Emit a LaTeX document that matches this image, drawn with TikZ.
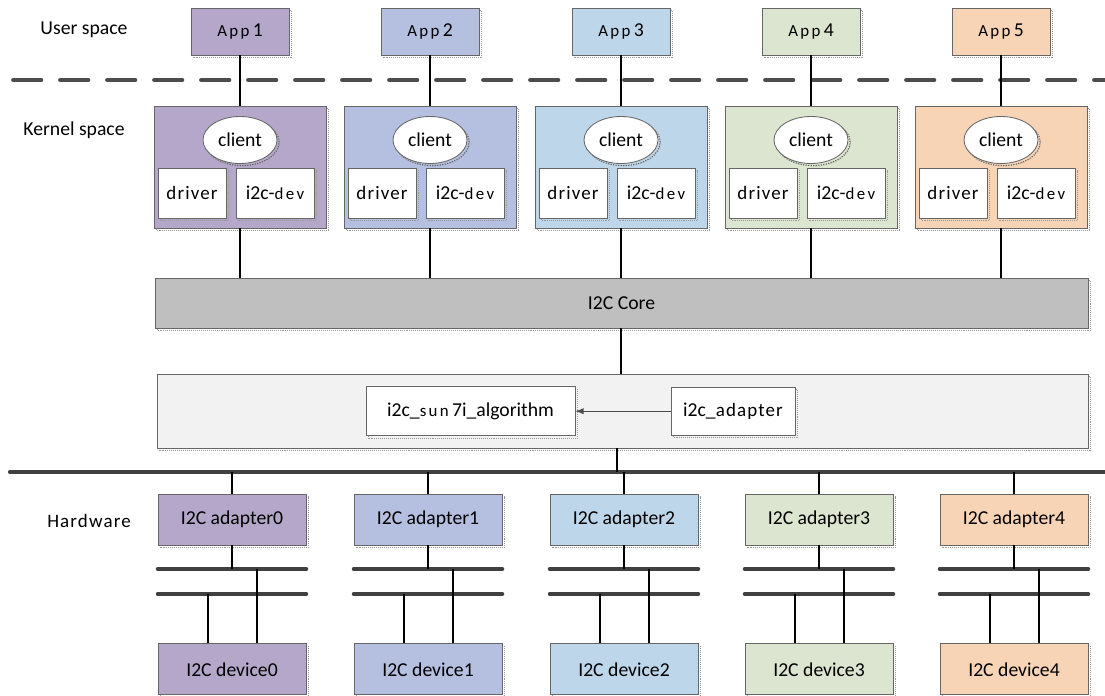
\documentclass[tikz,border=0pt]{standalone}
\usepackage{fontspec}
\setmainfont{Carlito}
\usepackage{xcolor}
\usepackage{tikz}
\usetikzlibrary{arrows,shapes.geometric,shadows}
\usetikzlibrary{positioning}

\definecolor{colA}{HTML}{B4A7CA}
\definecolor{colB}{HTML}{B5BFE0}
\definecolor{colC}{HTML}{BED6EA}
\definecolor{colD}{HTML}{DCE5CF}
\definecolor{colE}{HTML}{F8D4B6}
\definecolor{coregray}{HTML}{BFBFBF}
\definecolor{algogray}{HTML}{F2F2F2}
\newcommand{\spc}[1]{{\addfontfeatures{LetterSpace=14}\fontsize{12}{14}\selectfont #1}}
\newcommand{\spcl}[1]{{\addfontfeatures{LetterSpace=6}\fontsize{13.5}{16}\selectfont #1}}

\begin{document}
\begin{tikzpicture}[-,semithick,font=\fontsize{14}{17}\selectfont]
  \tikzstyle{box}=[draw=black!60,line width=0.6pt,rectangle,inner sep=0pt,copy shadow={shadow xshift=1.8pt,shadow yshift=-1.8pt,fill=none,draw=black!40,densely dotted,line width=0.4pt}]
  \tikzstyle{appbox}=[box,minimum width=2.45cm,minimum height=1.175cm]
  \tikzstyle{kbox}=[box,minimum width=4.3cm,minimum height=3.05cm]
  \tikzstyle{cli}=[box,ellipse,fill=white,minimum width=1.85cm,minimum height=1.175cm,copy shadow={shadow xshift=1.5pt,shadow yshift=-1.5pt,fill=none,draw=black!60,densely dotted,line width=0.8pt}]
  \tikzstyle{drv}=[box,fill=white,minimum width=1.7cm,minimum height=1.25cm]
  \tikzstyle{dev}=[box,fill=white,minimum width=1.95cm,minimum height=1.25cm]
  \tikzstyle{hw}=[box,minimum width=3.7cm,minimum height=1.275cm]
  \tikzstyle{wire}=[black,line width=1.4pt]
  \tikzstyle{bus}=[black!75,line width=2.6pt,line cap=round]
  \tikzstyle{lbl}=[inner sep=0pt]
  \useasboundingbox (0,0) rectangle (27.625,-17.375);

  % layer labels and separators
  \node[lbl] (us) at (2.1,-0.75) {User space};
  \node[lbl] (ks) at (1.85,-3.25) {Kernel space};
  \node[lbl] (hs) at (2.225,-13.025) {\spcl{Hardware}};
  \coordinate (usL) at (0.33,-2);
  \coordinate (usR) at (27.625,-2);
  \coordinate (hwL) at (0.25,-11.8);
  \coordinate (hwR) at (27.625,-11.8);
  \coordinate (bu) at (0,-14.225);
  \coordinate (bl) at (0,-14.85);
  \draw[black!70,line width=3pt,line cap=round,dash pattern=on 0.7cm off 0.475cm] (usL) -- (usR);
  \draw[black!75,line width=3pt,line cap=round] (hwL) -- (hwR);

  % user space
  \node[appbox,fill=colA] (P1) at (6.0,-0.7875)    {\spc{App}\,1};
  \node[appbox,fill=colB] (P2) at (10.75,-0.7875)  {\spc{App}\,2};
  \node[appbox,fill=colC] (P3) at (15.525,-0.7875) {\spc{App}\,3};
  \node[appbox,fill=colD] (P4) at (20.275,-0.7875) {\spc{App}\,4};
  \node[appbox,fill=colE] (P5) at (25.025,-0.7875) {\spc{App}\,5};

  % kernel space
  \node[kbox,fill=colA] (K1) at (6.0,-4.175)    {};
  \node[kbox,fill=colB] (K2) at (10.75,-4.175)  {};
  \node[kbox,fill=colC] (K3) at (15.525,-4.175) {};
  \node[kbox,fill=colD] (K4) at (20.275,-4.175) {};
  \node[kbox,fill=colE] (K5) at (25.025,-4.175) {};
  \node[cli] (C1) at (6.0,-3.5)    {client};
  \node[cli] (C2) at (10.75,-3.5)  {client};
  \node[cli] (C3) at (15.525,-3.5) {client};
  \node[cli] (C4) at (20.275,-3.5) {client};
  \node[cli] (C5) at (25.025,-3.5) {client};
  \node[drv] (R1) at (4.8,-4.825)    {\spcl{driver}};
  \node[drv] (R2) at (9.55,-4.825)   {\spcl{driver}};
  \node[drv] (R3) at (14.325,-4.825) {\spcl{driver}};
  \node[drv] (R4) at (19.075,-4.825) {\spcl{driver}};
  \node[drv] (R5) at (23.825,-4.825) {\spcl{driver}};
  \node[dev] (V1) at (6.875,-4.825)  {i2c-\spc{dev}};
  \node[dev] (V2) at (11.625,-4.825) {i2c-\spc{dev}};
  \node[dev] (V3) at (16.4,-4.825)   {i2c-\spc{dev}};
  \node[dev] (V4) at (21.15,-4.825)  {i2c-\spc{dev}};
  \node[dev] (V5) at (25.9,-4.825)   {i2c-\spc{dev}};

  \node[box,fill=coregray,minimum width=23.325cm,minimum height=1.25cm] (Core) at (15.5375,-7.575) {I2C Core};
  \node[box,fill=algogray,minimum width=23.275cm,minimum height=1.85cm] (Cont) at (15.5625,-10.275) {};
  \node[box,fill=white,minimum width=5.225cm,minimum height=1.225cm] (Alg) at (11.7625,-10.28) {i2c\_\spc{sun}\,7i\_algorithm};
  \node[box,fill=white,minimum width=3.1cm,minimum height=1.2cm] (Ad) at (18.325,-10.28) {i2c\_\spcl{adapter}};

  % hardware
  \node[hw,fill=colA] (A0) at (5.8,-12.9875)    {I2C adapter0};
  \node[hw,fill=colB] (A1) at (10.7,-12.9875)   {I2C adapter1};
  \node[hw,fill=colC] (A2) at (15.6,-12.9875)   {I2C adapter2};
  \node[hw,fill=colD] (A3) at (20.475,-12.9875) {I2C adapter3};
  \node[hw,fill=colE] (A4) at (25.35,-12.9875)  {I2C adapter4};
  \node[hw,fill=colA] (D0) [below=2.45cm of A0] {I2C device0};
  \node[hw,fill=colB] (D1) [below=2.45cm of A1] {I2C device1};
  \node[hw,fill=colC] (D2) [below=2.45cm of A2] {I2C device2};
  \node[hw,fill=colD] (D3) [below=2.45cm of A3] {I2C device3};
  \node[hw,fill=colE] (D4) [below=2.45cm of A4] {I2C device4};

  \path[wire]
    (P1) edge (K1)
    (P2) edge (K2)
    (P3) edge (K3)
    (P4) edge (K4)
    (P5) edge (K5)
    (K1.south) edge (K1.south |- Core.north)
    (K2.south) edge (K2.south |- Core.north)
    (K3.south) edge (K3.south |- Core.north)
    (K4.south) edge (K4.south |- Core.north)
    (K5.south) edge (K5.south |- Core.north)
    ([xshift=-0.02cm]Core.south) edge ([xshift=-0.02cm]Core.south |- Cont.north)
    ([xshift=-0.14cm]Cont.south) edge ([xshift=-0.14cm]Cont.south |- hwL)
    (A0.north) edge (A0.north |- hwL)
    (A1.north) edge (A1.north |- hwL)
    (A2.north) edge (A2.north |- hwL)
    (A3.north) edge (A3.north |- hwL)
    (A4.north) edge (A4.north |- hwL);
  \draw[black!70,line width=1pt,-latex] (Ad) -- (Alg);

  \path[bus]
    (A0.west |- bu) edge (A0.east |- bu)
    (A0.west |- bl) edge (A0.east |- bl)
    (A1.west |- bu) edge (A1.east |- bu)
    (A1.west |- bl) edge (A1.east |- bl)
    (A2.west |- bu) edge (A2.east |- bu)
    (A2.west |- bl) edge (A2.east |- bl)
    (A3.west |- bu) edge (A3.east |- bu)
    (A3.west |- bl) edge (A3.east |- bl)
    (A4.west |- bu) edge (A4.east |- bu)
    (A4.west |- bl) edge (A4.east |- bl);
  \path[wire]
    (A0.south) edge (A0.south |- bu)
    (A1.south) edge (A1.south |- bu)
    (A2.south) edge (A2.south |- bu)
    (A3.south) edge (A3.south |- bu)
    (A4.south) edge (A4.south |- bu)
    ([xshift=-0.6cm]D0.north) edge ([xshift=-0.6cm]D0.north |- bl)
    ([xshift=0.625cm]D0.north) edge ([xshift=0.625cm]D0.north |- bu)
    ([xshift=-0.6cm]D1.north) edge ([xshift=-0.6cm]D1.north |- bl)
    ([xshift=0.625cm]D1.north) edge ([xshift=0.625cm]D1.north |- bu)
    ([xshift=-0.6cm]D2.north) edge ([xshift=-0.6cm]D2.north |- bl)
    ([xshift=0.625cm]D2.north) edge ([xshift=0.625cm]D2.north |- bu)
    ([xshift=-0.6cm]D3.north) edge ([xshift=-0.6cm]D3.north |- bl)
    ([xshift=0.625cm]D3.north) edge ([xshift=0.625cm]D3.north |- bu)
    ([xshift=-0.6cm]D4.north) edge ([xshift=-0.6cm]D4.north |- bl)
    ([xshift=0.625cm]D4.north) edge ([xshift=0.625cm]D4.north |- bu);
\end{tikzpicture}
\end{document}
